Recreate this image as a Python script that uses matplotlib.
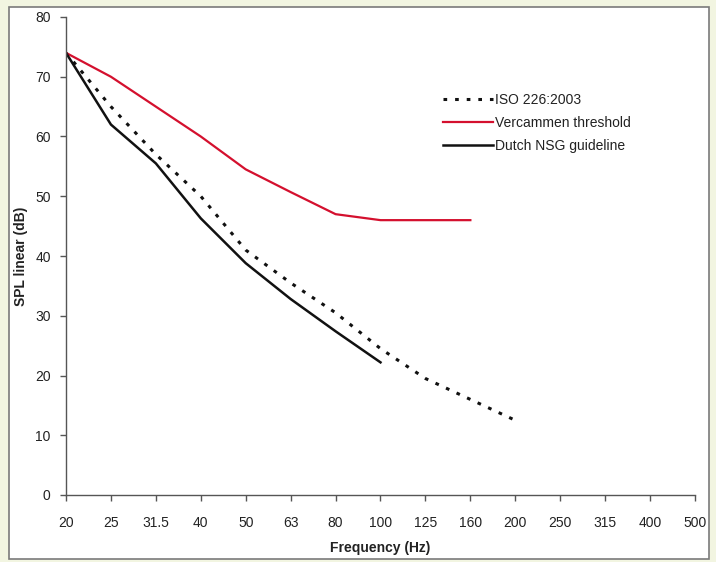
import matplotlib
matplotlib.use("Agg")
import matplotlib.pyplot as plt
from matplotlib.patches import Rectangle

plt.rcParams['font.family'] = ['Liberation Sans', 'DejaVu Sans']

# frequency bands (categorical axis)
freqs = ['20', '25', '31.5', '40', '50', '63', '80', '100', '125', '160',
         '200', '250', '315', '400', '500']

# values (dB)
iso_226 = [74, 65, 57, 50, 41, 35.5, 30.5, 24.5, 19.5, 16, 12.5]
vercammen = [74, 70, 65, 60, 54.5, 50.7, 47, 46, 46, 46]
dutch_nsg = [74, 62, 55.5, 46.3, 38.8, 32.8, 27.4, 22.2]

W, H = 716, 562
fig = plt.figure(figsize=(W / 100, H / 100), dpi=100, facecolor='#f2f5e1')

# white panel with grey frame, kept behind the axes
panel = Rectangle((9 / W, 1 - 559 / H), 700 / W, 552 / H,
                  transform=fig.transFigure, facecolor='white',
                  edgecolor='#7a7a7a', linewidth=1.2, zorder=-10)
fig.add_artist(panel)

ax = fig.add_axes([66 / W, 1 - 495 / H, (695 - 66) / W, (495 - 17) / H])
ax.set_facecolor('none')
ax.set_zorder(1)

ax.plot(range(len(iso_226)), iso_226, color='#111111', lw=2.2,
        linestyle=(0, (1.2, 2.6)), label='ISO 226:2003')
ax.plot(range(len(vercammen)), vercammen, color='#d4102e', lw=1.6,
        label='Vercammen threshold')
ax.plot(range(len(dutch_nsg)), dutch_nsg, color='#111111', lw=1.8,
        label='Dutch NSG guideline')

ax.set_xlim(0, len(freqs) - 1)
ax.set_ylim(0, 80)
ax.set_xticks(range(len(freqs)))
ax.set_xticklabels(freqs)
ax.set_yticks(range(0, 81, 10))

for s in ['top', 'right']:
    ax.spines[s].set_visible(False)
for s in ['left', 'bottom']:
    ax.spines[s].set_color('#555555')
    ax.spines[s].set_linewidth(1.0)

ax.tick_params(axis='both', direction='out', length=4, width=1,
               color='#555555', labelsize=10, labelcolor='#222222')
ax.tick_params(axis='x', pad=11)
ax.tick_params(axis='y', pad=7)

ax.set_xlabel('Frequency (Hz)', fontsize=10, fontweight='bold',
              color='#222222', labelpad=8)
ax.set_ylabel('SPL linear (dB)', fontsize=10, fontweight='bold',
              color='#222222', labelpad=5)

leg = ax.legend(loc='upper left', bbox_to_anchor=(430 / W, 1 - 80 / H),
                bbox_transform=fig.transFigure, frameon=False, fontsize=10,
                handlelength=3.6, handletextpad=0.15, labelspacing=0.65)
for t in leg.get_texts():
    t.set_color('#222222')

fig.savefig('out.png', dpi=100, facecolor=fig.get_facecolor())
